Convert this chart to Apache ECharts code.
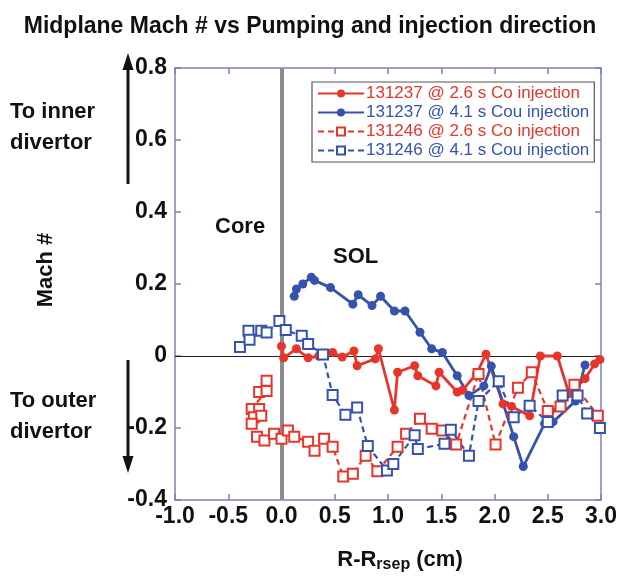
<!DOCTYPE html>
<html><head><meta charset="utf-8">
<script src="https://cdn.jsdelivr.net/npm/echarts@6/dist/echarts.min.js"></script>
<style>html,body{margin:0;padding:0;background:#fff}#c{width:620px;height:579px}</style>
</head><body><div id="c"></div>
<script>
const seriesNames = [
  '131237 @ 2.6 s Co injection',
  '131237 @ 4.1 s Cou injection',
  '131246 @ 2.6 s Co injection',
  '131246 @ 4.1 s Cou injection'
];
// [R-Rsep (cm), Mach #]
const red131237 = [
  [0.00,0.027],[0.02,-0.005],[0.14,0.02],[0.25,-0.005],[0.35,0.0],[0.48,0.01],[0.57,-0.003],
  [0.68,0.014],[0.71,-0.027],[0.88,-0.008],[0.91,0.02],[1.06,-0.15],[1.09,-0.045],[1.25,-0.027],
  [1.28,-0.055],[1.45,-0.083],[1.48,-0.045],[1.65,-0.10],[1.70,-0.095],[1.83,-0.05],[1.92,0.005],
  [2.08,-0.133],[2.16,-0.14],[2.33,-0.166],[2.43,0.0],[2.59,0.0],[2.70,-0.105],[2.85,-0.063],
  [2.94,-0.022],[2.99,-0.01]
];
const blue131237 = [
  [0.12,0.166],[0.14,0.186],[0.20,0.20],[0.28,0.219],[0.31,0.21],[0.46,0.19],[0.67,0.144],
  [0.72,0.17],[0.85,0.14],[0.93,0.166],[1.06,0.125],[1.16,0.125],[1.30,0.066],[1.41,0.02],
  [1.51,0.01],[1.65,-0.055],[1.76,-0.11],[1.90,-0.083],[1.97,-0.028],[2.18,-0.224],[2.27,-0.307],
  [2.47,-0.188],[2.55,-0.183],[2.76,-0.125],[2.85,-0.025]
];
const red131246 = [
  [-0.14,-0.069],[-0.21,-0.10],[-0.14,-0.097],[-0.28,-0.147],[-0.21,-0.147],[-0.26,-0.17],
  [-0.19,-0.166],[-0.28,-0.188],[-0.23,-0.224],[-0.16,-0.235],[-0.07,-0.216],[0.00,-0.23],
  [0.06,-0.207],[0.12,-0.224],[0.25,-0.238],[0.31,-0.263],[0.40,-0.23],[0.48,-0.252],
  [0.58,-0.335],[0.67,-0.327],[0.79,-0.277],[0.90,-0.32],[1.09,-0.252],[1.17,-0.216],
  [1.30,-0.174],[1.41,-0.202],[1.51,-0.207],[1.64,-0.246],[1.85,-0.05],[2.01,-0.246],
  [2.22,-0.088],[2.35,-0.045],[2.50,-0.153],[2.62,-0.14],[2.75,-0.08],[2.97,-0.166]
];
const blue131246 = [
  [-0.39,0.025],[-0.31,0.07],[-0.30,0.045],[-0.19,0.07],[-0.14,0.065],[-0.02,0.097],[0.04,0.072],
  [0.19,0.056],[0.25,0.033],[0.39,0.004],[0.48,-0.108],[0.60,-0.163],[0.71,-0.143],[0.81,-0.25],
  [0.99,-0.318],[1.05,-0.30],[1.25,-0.22],[1.28,-0.258],[1.53,-0.244],[1.59,-0.205],[1.76,-0.277],
  [1.85,-0.125],[2.04,-0.07],[2.18,-0.17],[2.33,-0.138],[2.50,-0.183],[2.64,-0.11],[2.78,-0.11],
  [2.87,-0.16],[2.99,-0.20]
];
const xRange = [-1.0, 3.0, 0.5];
const yRange = [-0.4, 0.8, 0.2];

const RED = '#e8352c', BLUE = '#3553ad', FRAME = '#7880c4';
const chart = echarts.init(document.getElementById('c'));
const labelFont = {color:'#111', fontWeight:'bold', fontSize:23, fontFamily:'Liberation Sans, Arial, sans-serif'};
function xAx(pos, show){
  return {type:'value', position:pos, min:xRange[0], max:xRange[1], interval:xRange[2],
    axisLine:{show:true, onZero:false, lineStyle:{color:FRAME, width:1.5}},
    axisTick:{show:true, inside:true, length:6, lineStyle:{color:FRAME, width:1.5}},
    axisLabel:{show:show, margin:5, formatter:v=>v.toFixed(1), ...labelFont},
    splitLine:{show:false}};
}
function yAx(pos, show){
  return {type:'value', position:pos, min:yRange[0], max:yRange[1], interval:yRange[2],
    axisLine:{show:true, onZero:false, lineStyle:{color:FRAME, width:1.5}},
    axisTick:{show:true, inside:true, length:6, lineStyle:{color:FRAME, width:1.5}},
    axisLabel:{show:show, margin:8, formatter:v=>Math.abs(v)<1e-9?'0':v.toFixed(1), ...labelFont},
    splitLine:{show:false}};
}
function lineSeries(name, data, color, dashed){
  return {name, type:'line', data, z:5,
    symbol: dashed ? 'emptyRect' : 'circle', symbolSize: dashed ? 10 : 9,
    lineStyle:{color, width: dashed ? 2.2 : 2.8, type: dashed ? [6,4] : 'solid'},
    itemStyle:{color, borderColor:color, borderWidth: dashed ? 1.4 : 0},
    emphasis:{disabled:true}, animation:false};
}
const bigText = {fontFamily:'Liberation Sans, Arial, sans-serif', fontWeight:'bold', fill:'#111'};
chart.setOption({
  animation:false,
  title:{text:'Midplane Mach # vs Pumping and injection direction', left:'center', top:10,
    textStyle:{fontSize:23, fontWeight:'bold', color:'#111', fontFamily:'Liberation Sans, Arial, sans-serif'}},
  grid:{left:175, right:12, top:68, bottom:79, containLabel:false},
  xAxis:[xAx('bottom', true), xAx('top', false)],
  yAxis:[yAx('left', true), yAx('right', false)],
  legend:{orient:'vertical', left:312, top:82, itemWidth:46, itemHeight:10, itemGap:2,
    padding:[3,5,3,5], borderColor:'#555', borderWidth:1.2, backgroundColor:'#fff',
    textStyle:{fontSize:17, fontFamily:'Liberation Sans, Arial, sans-serif', padding:[0,0,0,-3]},
    data:[
      {name:seriesNames[0], textStyle:{color:RED}},
      {name:seriesNames[1], textStyle:{color:BLUE}},
      {name:seriesNames[2], textStyle:{color:RED}},
      {name:seriesNames[3], textStyle:{color:BLUE}}
    ]},
  series:[
    {type:'line', data:[], z:1, silent:true,
      markLine:{silent:true, symbol:'none', label:{show:false}, animation:false,
        data:[
          {xAxis:0, lineStyle:{color:'#8c8c8c', width:4, type:'solid'}},
          {yAxis:0, lineStyle:{color:'#222', width:1.2, type:'solid'}}
        ]}},
    lineSeries(seriesNames[0], red131237, RED, false),
    lineSeries(seriesNames[1], blue131237, BLUE, false),
    lineSeries(seriesNames[2], red131246, RED, true),
    lineSeries(seriesNames[3], blue131246, BLUE, true)
  ],
  graphic:[
    {type:'text', left:10, top:96, style:{text:'To inner\ndivertor', fontSize:22, lineHeight:31, ...bigText}},
    {type:'text', left:10, top:385, style:{text:'To outer\ndivertor', fontSize:22, lineHeight:31, ...bigText}},
    {type:'text', x:46, y:270, rotation:Math.PI/2, style:{text:'Mach #', fontSize:22, align:'center', verticalAlign:'middle', ...bigText}},
    {type:'text', left:215, top:216, style:{text:'Core', fontSize:22, ...bigText}},
    {type:'text', left:333, top:246, style:{text:'SOL', fontSize:22, ...bigText}},
    {type:'line', shape:{x1:128, y1:184, x2:128, y2:66}, style:{stroke:'#111', lineWidth:3}},
    {type:'polygon', shape:{points:[[128,53],[122.5,70],[133.5,70]]}, style:{fill:'#111'}},
    {type:'line', shape:{x1:128, y1:360, x2:128, y2:460}, style:{stroke:'#111', lineWidth:3}},
    {type:'polygon', shape:{points:[[128,473],[122.5,456],[133.5,456]]}, style:{fill:'#111'}},
    {type:'text', x:400, y:560, style:{
      text:'{a|R-R}{s|rsep}{a| (cm)}', align:'center', verticalAlign:'middle',
      rich:{a:{fontSize:22, fontWeight:'bold', fontFamily:'Liberation Sans, Arial, sans-serif', fill:'#111'},
            s:{fontSize:16, fontWeight:'bold', fontFamily:'Liberation Sans, Arial, sans-serif', fill:'#111', padding:[10,0,0,0]}}}}
  ]
});
</script></body></html>
